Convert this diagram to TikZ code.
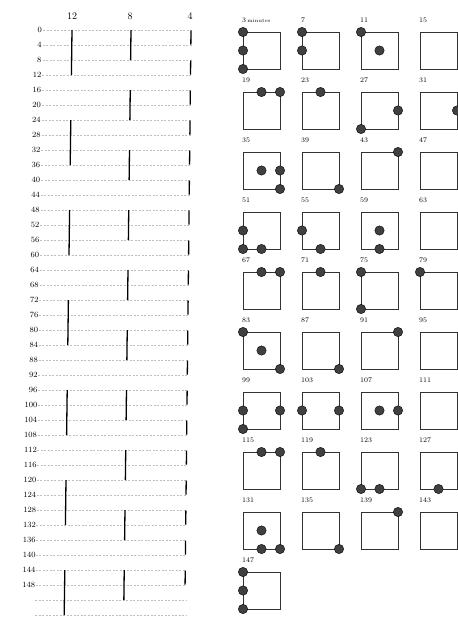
\documentclass[tikz,border=0pt]{standalone}
\usepackage{tikz}
\usetikzlibrary{calc}

\begin{document}
\begin{tikzpicture}[x=1pt, y=-1pt,
  every node/.style={font=\footnotesize, inner sep=0pt},
  rule/.style={gray!50, dash pattern=on 2pt off 1.5pt, line width=0.4pt},
  bar/.style={black, line width=1.3pt},
  minbox/.style={draw=black!80, line width=0.6pt},
  dot/.style={fill=black!75, draw=black, line width=0.4pt}]
\useasboundingbox (0,0) rectangle (458,625);

% column headings
\node[font=\normalsize] (h12) at (72,16) {12};
\node[font=\normalsize] (h8) at (130,16) {8};
\node[font=\normalsize] (h4) at (190,16) {4};

% ruled lines, minute labels
\foreach \m in {0,4,...,156}
  \draw[rule] ({43-0.05*\m},{30+3.75*\m}) -- ({192-0.04*\m},{30+3.75*\m});
\foreach \m in {0,4,...,148}
  \node[anchor=east] (m\m) at ({42-0.045*\m},{30+3.75*\m}) {\m};

% on-times of each column
\foreach \s in {0,24,...,144}
  \draw[bar] ({72-0.05*\s},{30+3.75*\s}) -- ({72-0.05*(\s+12)},{30+3.75*(\s+12)});
\foreach \s in {0,16,...,144}
  \draw[bar] ({131-0.047*\s},{30+3.75*\s}) -- ({131-0.047*(\s+8)},{30+3.75*(\s+8)});
\foreach \s in {0,8,...,144}
  \draw[bar] ({191-0.04*\s},{30+3.75*\s+0.5}) -- ({191-0.04*(\s+4)},{30+3.75*(\s+4)-0.5});

% minute squares
\foreach \r in {0,...,8}
  \foreach \c in {0,...,3} {
    \pgfmathtruncatemacro{\lab}{3+16*\r+4*\c}
    \draw[minbox] ({243+59*\c},{32+60*\r}) rectangle ++(37,37);
    \ifnum\lab>3
      \node[anchor=west, font=\scriptsize] (t\lab) at ({242+59*\c},{20+60*\r}) {\lab};
    \fi
  }
\draw[minbox] (243,572) rectangle ++(37,37);
\node[anchor=west, font=\scriptsize] (t147) at (242,560) {147};
\node[anchor=west, font=\scriptsize] (t3) at (242,20) {3\,{\tiny minutes}};

% dots: column/row/x/y
\foreach \c/\r/\a/\b in {0/0/0/0, 0/0/0/1, 0/0/0/2, 1/0/0/0, 1/0/0/1, 2/0/0/0, 2/0/1/1,
    0/1/1/0, 0/1/2/0, 1/1/1/0, 2/1/2/1, 2/1/0/2, 3/1/2/1,
    0/2/1/1, 0/2/2/1, 0/2/2/2, 1/2/2/2, 2/2/2/0,
    0/3/0/1, 0/3/0/2, 0/3/1/2, 1/3/0/1, 1/3/1/2, 2/3/1/1, 2/3/1/2,
    0/4/1/0, 0/4/2/0, 1/4/1/0, 2/4/0/0, 2/4/0/2, 3/4/0/0,
    0/5/0/0, 0/5/1/1, 0/5/2/2, 1/5/2/2, 2/5/2/0,
    0/6/0/1, 0/6/2/1, 0/6/0/2, 1/6/0/1, 1/6/2/1, 2/6/1/1, 2/6/2/1,
    0/7/1/0, 0/7/2/0, 1/7/1/0, 2/7/0/2, 2/7/1/2, 3/7/1/2,
    0/8/1/1, 0/8/1/2, 0/8/2/2, 1/8/2/2, 2/8/2/0,
    0/9/0/0, 0/9/0/1, 0/9/0/2}
  \filldraw[dot] ({243+59*\c+18.5*\a},{32+60*\r+18.5*\b}) circle (4.7pt);
\end{tikzpicture}
\end{document}
